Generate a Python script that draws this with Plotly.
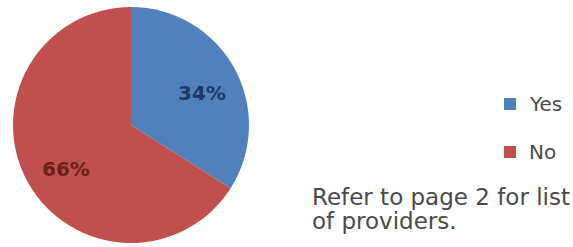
import math
import plotly.graph_objects as go

labels = ["Yes", "No"]
values = [34, 66]
colors = ["#4f81bd", "#c0504d"]
text_colors = ["#1f3864", "#6b1e1e"]
note_lines = ["Refer to page 2 for list", "of providers."]

W, H = 573, 247
# pie geometry in pixels (style)
CX, CY, R = 131, 125, 118

fig = go.Figure(
    go.Pie(
        labels=labels,
        values=values,
        sort=False,
        direction="clockwise",
        rotation=0,
        marker=dict(colors=colors, line=dict(width=0)),
        textinfo="none",
        showlegend=False,
        domain=dict(x=[(CX - R) / W, (CX + R) / W], y=[1 - (CY + R) / H, 1 - (CY - R) / H]),
        hoverinfo="label+percent",
    )
)

shapes = []
annotations = []

# percent labels along slice bisectors, computed from the values
total = sum(values)
cum = 0
for v, tc in zip(values, text_colors):
    mid = (cum + v / 2) / total * 2 * math.pi
    cum += v
    px = CX + 0.66 * R * math.sin(mid)
    py = CY - 0.66 * R * math.cos(mid)
    annotations.append(dict(
        xref="paper", yref="paper", x=px / W, y=1 - py / H,
        xanchor="center", yanchor="middle", xshift=3, yshift=-6,
        text=f"{round(v / total * 100)}%", showarrow=False,
        font=dict(family="DejaVu Sans", size=20, color=tc, weight="bold"),
    ))

legend_y = [104, 152]
for lab, col, yc in zip(labels, colors, legend_y):
    s = 12
    shapes.append(dict(
        type="rect", xref="paper", yref="paper",
        x0=(510 - s / 2) / W, x1=(510 + s / 2) / W,
        y0=1 - (yc + s / 2) / H, y1=1 - (yc - s / 2) / H,
        fillcolor=col, line=dict(width=0),
    ))
    annotations.append(dict(
        xref="paper", yref="paper", x=527 / W, y=1 - yc / H,
        xanchor="left", yanchor="middle", text=lab, showarrow=False,
        font=dict(family="DejaVu Sans", size=20, color="#4a4a4a"),
    ))

for i, line in enumerate(note_lines):
    annotations.append(dict(
        xref="paper", yref="paper", x=310 / W, y=1 - (197 + 24 * i) / H,
        xanchor="left", yanchor="middle", align="left",
        text=line, showarrow=False,
        font=dict(family="DejaVu Sans", size=23, color="#4a4a4a"),
    ))

fig.update_layout(
    width=W, height=H,
    margin=dict(l=0, r=0, t=0, b=0),
    paper_bgcolor="white", plot_bgcolor="white",
    shapes=shapes, annotations=annotations,
)

fig.write_html(
    "out.html",
    config={"displayModeBar": False},
    post_script="document.body.style.margin='0';",
)
